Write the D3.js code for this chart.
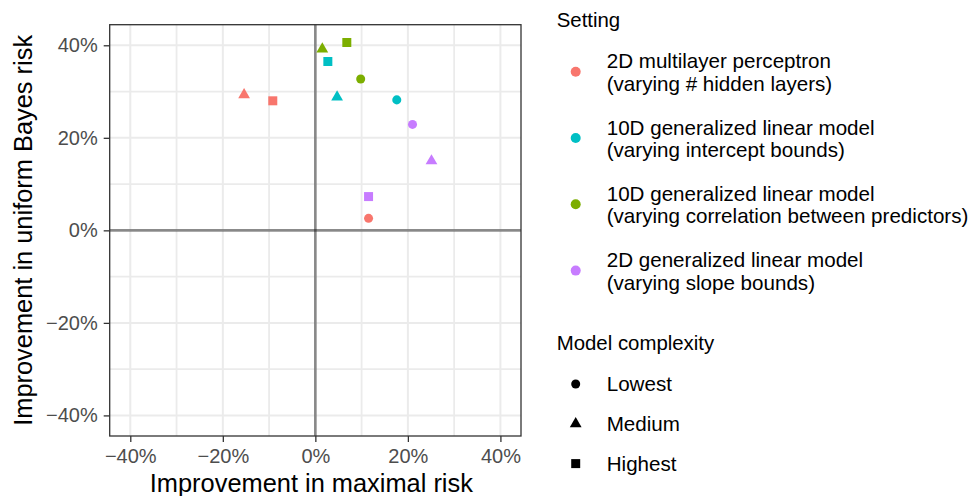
<!DOCTYPE html>
<html>
<head>
<meta charset="utf-8">
<script src="https://cdn.jsdelivr.net/npm/d3@7"></script>
<style>
  body { margin: 0; background: #fff; }
  svg { font-family: "Liberation Sans", Arial, sans-serif; }
</style>
</head>
<body>
<svg id="chart"></svg>
<script>
var width = 972,
    height = 496;

// settings (legend order) and their colours
var settings = [
    ['2D multilayer perceptron', '(varying # hidden layers)'],
    ['10D generalized linear model', '(varying intercept bounds)'],
    ['10D generalized linear model', '(varying correlation between predictors)'],
    ['2D generalized linear model', '(varying slope bounds)']
];
var settingColors = ['#F8766D', '#00BFC4', '#7CAE00', '#C77CFF'];
var complexity = ['Lowest', 'Medium', 'Highest'];

// improvement in maximal risk (%), per setting: lowest, medium, highest
var maxRisk = [
    [11.5, -15.4, -9.2],
    [17.6, 4.7, 2.7],
    [9.8, 1.5, 6.8],
    [21.0, 25.1, 11.5]
];
// improvement in uniform Bayes risk (%)
var bayesRisk = [
    [2.6, 29.3, 28.0],
    [28.2, 28.8, 36.5],
    [32.7, 39.2, 40.6],
    [22.9, 15.0, 7.3]
];
var majorTicks = [-40, -20, 0, 20, 40];
var minorTicks = [-30, -10, 10, 30];

var points = [];
settings.forEach(function(s, i) {
    complexity.forEach(function(c, j) {
        points.push({setting: i, level: j, x: maxRisk[i][j], y: bayesRisk[i][j]});
    });
});

var panel = {left: 109.7, right: 521, top: 24.7, bottom: 436};
var x = d3.scaleLinear().domain([-44.45, 44.45]).range([panel.left, panel.right]),
    y = d3.scaleLinear().domain([-44.45, 44.45]).range([panel.bottom, panel.top]);

var svg = d3.select('#chart').attr('width', width).attr('height', height);

var shapes = [
    d3.symbol().type(d3.symbolCircle).size(64),
    d3.symbol().type(d3.symbolTriangle).size(60),
    d3.symbol().type(d3.symbolSquare).size(81)
];

svg.append('rect')
    .attr('x', panel.left).attr('y', panel.top)
    .attr('width', panel.right - panel.left).attr('height', panel.bottom - panel.top)
    .attr('fill', '#fff');

// grid
var grid = svg.append('g');
grid.selectAll('.vminor').data(minorTicks).enter().append('line')
    .attr('x1', function(d) { return x(d); }).attr('x2', function(d) { return x(d); })
    .attr('y1', panel.top).attr('y2', panel.bottom)
    .attr('stroke', '#EBEBEB').attr('stroke-width', 1.8);
grid.selectAll('.hminor').data(minorTicks).enter().append('line')
    .attr('y1', function(d) { return y(d); }).attr('y2', function(d) { return y(d); })
    .attr('x1', panel.left).attr('x2', panel.right)
    .attr('stroke', '#EBEBEB').attr('stroke-width', 1.8);
grid.selectAll('.vmajor').data(majorTicks).enter().append('line')
    .attr('x1', function(d) { return x(d); }).attr('x2', function(d) { return x(d); })
    .attr('y1', panel.top).attr('y2', panel.bottom)
    .attr('stroke', '#EBEBEB').attr('stroke-width', 2);
grid.selectAll('.hmajor').data(majorTicks).enter().append('line')
    .attr('y1', function(d) { return y(d); }).attr('y2', function(d) { return y(d); })
    .attr('x1', panel.left).attr('x2', panel.right)
    .attr('stroke', '#EBEBEB').attr('stroke-width', 2);

// zero lines (semi-transparent, like the original)
svg.append('line')
    .attr('x1', x(0)).attr('x2', x(0)).attr('y1', panel.top).attr('y2', panel.bottom)
    .attr('stroke', '#000').attr('stroke-opacity', 0.42).attr('stroke-width', 2.7);
svg.append('line')
    .attr('y1', y(0)).attr('y2', y(0)).attr('x1', panel.left).attr('x2', panel.right)
    .attr('stroke', '#000').attr('stroke-opacity', 0.42).attr('stroke-width', 2.7);

// points
svg.append('g').selectAll('path').data(points).enter().append('path')
    .attr('d', function(d) { return shapes[d.level](); })
    .attr('transform', function(d) { return 'translate(' + x(d.x) + ',' + y(d.y) + ')'; })
    .attr('fill', function(d) { return settingColors[d.setting]; });

// border
svg.append('rect')
    .attr('x', panel.left).attr('y', panel.top)
    .attr('width', panel.right - panel.left).attr('height', panel.bottom - panel.top)
    .attr('fill', 'none').attr('stroke', '#333').attr('stroke-width', 1.3);

var fmt = function(d) { return (d < 0 ? '\u2212' : '') + Math.abs(d) + '%'; };

var xAxis = svg.append('g').attr('transform', 'translate(0,' + panel.bottom + ')')
    .call(d3.axisBottom(x).tickValues(majorTicks).tickFormat(fmt).tickSize(6).tickPadding(6.8));
var yAxis = svg.append('g').attr('transform', 'translate(' + panel.left + ',0)')
    .call(d3.axisLeft(y).tickValues(majorTicks).tickFormat(fmt).tickSize(6).tickPadding(6));
[xAxis, yAxis].forEach(function(a) {
    a.select('.domain').remove();
    a.selectAll('line').attr('stroke', '#333').attr('stroke-width', 1.3);
    a.selectAll('text').attr('fill', '#4D4D4D').attr('font-size', '20px')
        .attr('font-family', '"Liberation Sans", Arial, sans-serif');
});

// axis titles
svg.append('text')
    .attr('x', (panel.left + panel.right) / 2 - 4).attr('y', 492)
    .attr('text-anchor', 'middle').attr('font-size', '25.4px').attr('fill', '#000')
    .text('Improvement in maximal risk');
svg.append('text')
    .attr('transform', 'translate(32,' + (panel.top + panel.bottom) / 2 + ') rotate(-90)')
    .attr('text-anchor', 'middle').attr('font-size', '25.4px').attr('fill', '#000')
    .text('Improvement in uniform Bayes risk');

// legend: setting
var leg1 = svg.append('g');
leg1.append('text').attr('x', 556.7).attr('y', 26.7).attr('font-size', '20.4px').text('Setting');
var entries = leg1.selectAll('.entry').data(settings).enter().append('g')
    .attr('transform', function(d, i) { return 'translate(0,' + (71.7 + i * 66.3) + ')'; });
entries.append('circle').attr('cx', 575.7).attr('cy', 0).attr('r', 5)
    .attr('fill', function(d, i) { return settingColors[i]; });
entries.append('text').attr('x', 606.7).attr('y', -3.4).attr('font-size', '20.6px')
    .text(function(d) { return d[0]; });
entries.append('text').attr('x', 606.7).attr('y', 19).attr('font-size', '20.6px')
    .text(function(d) { return d[1]; });

// legend: model complexity
var leg2 = svg.append('g');
leg2.append('text').attr('x', 556.7).attr('y', 350).attr('font-size', '20.4px').text('Model complexity');
var entries2 = leg2.selectAll('.entry').data(complexity).enter().append('g')
    .attr('transform', function(d, i) { return 'translate(0,' + (384 + i * 39.8) + ')'; });
entries2.append('path')
    .attr('d', function(d, i) { return shapes[i](); })
    .attr('transform', 'translate(575.7,0)')
    .attr('fill', '#000');
entries2.append('text').attr('x', 606.7).attr('y', 7).attr('font-size', '20.6px')
    .text(function(d) { return d; });
</script>
</body>
</html>
